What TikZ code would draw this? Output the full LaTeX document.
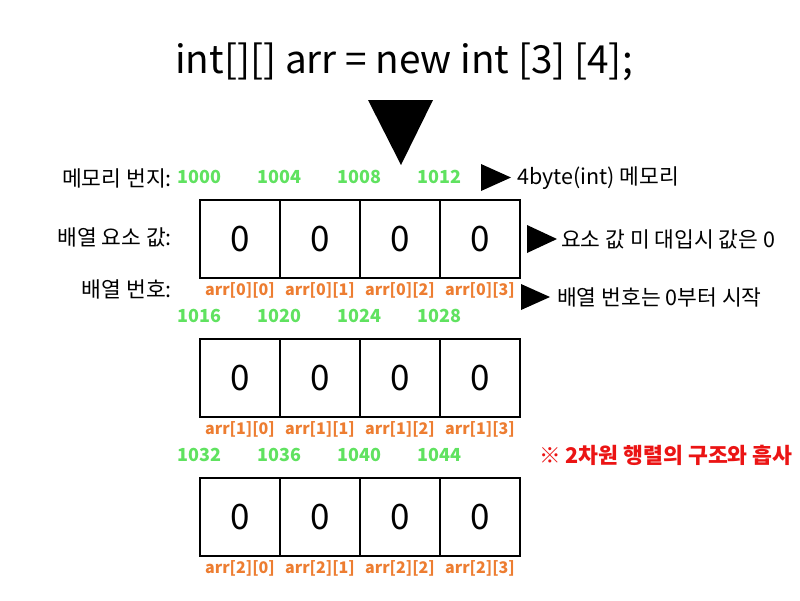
\documentclass[tikz,border=0pt]{standalone}
\usepackage{fontspec}
\setmainfont{Noto Sans CJK KR}
\usetikzlibrary{positioning}
\definecolor{addrgreen}{RGB}{96,226,96}
\definecolor{idxorange}{RGB}{237,125,49}
\definecolor{notered}{RGB}{235,20,20}

\begin{document}
\begin{tikzpicture}[
  x=1pt, y=-1pt,
  cell/.style={draw, line width=1.2pt, minimum width=80pt, minimum height=78pt, inner sep=0pt, font=\fontsize{35}{35}\selectfont},
  addr/.style={inner sep=0pt, text=addrgreen, font=\bfseries\fontsize{18}{18}\selectfont},
  idx/.style={inner sep=0pt, text=idxorange, font=\bfseries\fontsize{16}{16}\selectfont},
  rowlbl/.style={anchor=east, inner sep=0pt, font=\fontsize{21.5}{21.5}\selectfont},
  note/.style={anchor=west, inner sep=0pt, font=\fontsize{21.5}{21.5}\selectfont}
]
\useasboundingbox[fill=white] (0,0) rectangle (800,600);

\node[font=\fontsize{38.7}{38.7}\selectfont] (title) at (404,62) {int[][] arr = new int [3] [4];};
\fill (368,100) -- (433,100) -- (401,165) -- cycle;

% row labels on the left
\node[rowlbl] (lmem) at (172,178) {메모리 번지:};
\node[rowlbl] (lval) at (172,237) {배열 요소 값:};
\node[rowlbl] (lidx) at (172,289) {배열 번호:};

% three rows of four cells
\foreach \r/\y in {0/239,1/378,2/517} {
  \foreach \c in {0,...,3} {
    \node[cell] (c\r\c) at ({240+80*\c},\y) {0};
    \pgfmathtruncatemacro\addrval{1000+16*\r+4*\c}
    \node[addr] (a\r\c) at ([yshift=22pt]c\r\c.north west) {\addrval};
    \node[idx] (i\r\c) at ([yshift=-12pt]c\r\c.south) {arr[\r][\c]};
  }
}

% notes on the right
\fill (481,164) -- (481,191) -- (511,177.5) -- cycle;
\node[note] (nbyte) at (517,178) {4byte(int) 메모리};
\fill (527,225) -- (527,253) -- (557,239) -- cycle;
\node[note] (nzero) at (561,239) {요소 값 미 대입시 값은 0};
\fill (521,284) -- (521,310) -- (550,297) -- cycle;
\node[note] (nidx) at (557,297) {배열 번호는 0부터 시작};
\node[note, text=notered, font=\bfseries\fontsize{21.6}{21.6}\selectfont] (nmatrix) at (539,455) {※ 2차원 행렬의 구조와 흡사};
\end{tikzpicture}
\end{document}
